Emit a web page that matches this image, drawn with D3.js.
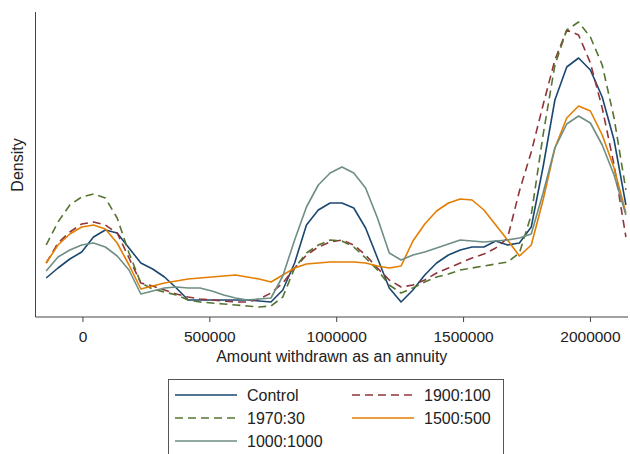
<!DOCTYPE html>
<html>
<head>
<meta charset="utf-8">
<script src="https://cdn.jsdelivr.net/npm/d3@7"></script>
<style>
  html, body { margin: 0; padding: 0; background: #fff; }
  svg { display: block; font-family: "Liberation Sans", Arial, sans-serif; }
</style>
</head>
<body>
<div id="chart"></div>
<script>
// Evaluation points (amount withdrawn) shared by all kernel density curves
const xGrid = [-142900, -96300, -49700, -3000, 43600, 90200, 136800, 183500, 230100, 276700,
  323300, 370000, 416600, 463200, 509800, 556500, 603100, 649700, 696300, 743000,
  789600, 836200, 882800, 929500, 976100, 1022700, 1069300, 1115900, 1162600, 1209200,
  1255800, 1302400, 1349100, 1395700, 1442300, 1488900, 1535600, 1582200, 1628800, 1675400,
  1722100, 1768700, 1815300, 1861900, 1908600, 1955200, 2001800, 2048400, 2095100, 2141700];

// Density values (x 1e-7)
const control = [3.9, 4.9, 5.8, 6.5, 8.0, 8.7, 8.4, 6.9, 5.4, 4.8,
  4.0, 2.9, 1.7, 1.7, 1.7, 1.7, 1.7, 1.7, 1.6, 1.5,
  2.7, 5.4, 9.2, 10.7, 11.4, 11.4, 10.9, 8.9, 5.9, 2.9,
  1.5, 2.7, 4.2, 5.4, 6.2, 6.7, 7.0, 7.0, 7.6, 7.2,
  7.4, 9.0, 15.0, 21.7, 25.0, 25.9, 24.7, 22.0, 17.7, 11.2];

const t1900 = [5.4, 7.4, 8.5, 9.3, 9.5, 9.2, 8.4, 5.9, 3.4, 3.1,
  2.7, 2.3, 2.0, 1.8, 1.7, 1.6, 1.5, 1.5, 1.8, 2.4,
  3.4, 4.9, 6.2, 7.0, 7.5, 7.7, 7.2, 6.2, 4.9, 3.7,
  3.0, 3.2, 3.7, 4.4, 4.9, 5.4, 5.9, 6.3, 6.9, 7.9,
  12.6, 16.5, 21.2, 25.7, 28.7, 28.2, 25.4, 20.9, 15.2, 8.0];

const t1970 = [7.2, 9.5, 11.2, 12.0, 12.3, 11.9, 9.9, 6.4, 3.4, 2.8,
  2.5, 2.2, 1.7, 1.5, 1.4, 1.3, 1.2, 1.1, 1.0, 1.1,
  2.0, 4.9, 6.4, 7.2, 7.7, 7.6, 7.0, 5.9, 4.7, 3.2,
  2.4, 2.9, 3.5, 4.0, 4.3, 4.7, 4.9, 5.1, 5.3, 5.5,
  6.4, 10.2, 18.2, 25.2, 28.7, 29.5, 28.0, 25.2, 19.9, 12.7];

const t1500 = [5.4, 7.2, 8.3, 9.0, 9.2, 8.8, 7.4, 5.2, 2.8, 3.1,
  3.4, 3.6, 3.8, 3.9, 4.0, 4.1, 4.2, 4.0, 3.8, 3.5,
  4.2, 4.9, 5.3, 5.4, 5.5, 5.5, 5.5, 5.4, 5.1, 4.9,
  5.1, 7.6, 9.3, 10.6, 11.4, 11.8, 11.7, 10.7, 9.2, 7.7,
  6.1, 7.2, 11.7, 16.9, 19.9, 21.1, 20.6, 18.2, 14.9, 10.4];

const t1000 = [4.6, 6.0, 6.7, 7.2, 7.4, 7.0, 6.1, 4.7, 2.3, 2.6,
  2.9, 3.0, 2.9, 2.9, 2.6, 2.2, 1.9, 1.7, 1.8, 1.9,
  4.1, 7.7, 11.0, 13.2, 14.4, 15.0, 14.4, 12.9, 9.9, 6.4,
  5.7, 6.2, 6.5, 6.9, 7.3, 7.7, 7.6, 7.5, 7.6, 7.7,
  7.9, 8.3, 12.4, 16.9, 19.3, 20.1, 19.4, 17.2, 14.2, 10.2];

const seriesNames = ['Control', '1900:100', '1970:30', '1500:500', '1000:1000'];
const seriesValues = [control, t1900, t1970, t1500, t1000];
const xTicks = [0, 500000, 1000000, 1500000, 2000000];

const COLORS = ['#1a476f', '#90353b', '#55752f', '#e37e00', '#6e8e84'];
const DASHES = [null, '8,5', '8,5', null, null];

(function () {
  'use strict';

  const W = 630, H = 454;
  const plot = { left: 35.5, right: 628, top: 12, bottom: 317 };

  const svg = d3.select('#chart').append('svg')
    .attr('width', W)
    .attr('height', H);

  const x = d3.scaleLinear()
    .domain([-185000, 2150000])
    .range([plot.left, plot.right]);

  const y = d3.scaleLinear()
    .domain([0, 30.5])
    .range([plot.bottom, plot.top]);

  // Axes
  const xAxis = svg.append('g')
    .attr('transform', 'translate(0,' + plot.bottom + ')')
    .call(d3.axisBottom(x).tickValues(xTicks).tickFormat(d3.format('d')).tickSize(5).tickPadding(9));
  xAxis.select('.domain').attr('stroke', '#444').attr('d', 'M' + plot.left + ',0H' + plot.right);
  xAxis.selectAll('.tick line').attr('stroke', '#444');
  xAxis.selectAll('.tick text')
    .attr('fill', '#222')
    .attr('font-size', '15.5px')
    .attr('font-family', '"Liberation Sans", Arial, sans-serif');

  svg.append('line')
    .attr('x1', plot.left).attr('x2', plot.left)
    .attr('y1', plot.top).attr('y2', plot.bottom)
    .attr('stroke', '#444');

  svg.append('text')
    .attr('x', (plot.left + plot.right) / 2)
    .attr('y', 362)
    .attr('text-anchor', 'middle')
    .attr('fill', '#222')
    .attr('font-size', '16px')
    .text('Amount withdrawn as an annuity');

  svg.append('text')
    .attr('transform', 'translate(23,' + 165 + ') rotate(-90)')
    .attr('text-anchor', 'middle')
    .attr('fill', '#222')
    .attr('font-size', '16px')
    .text('Density');

  // Density curves
  const line = d3.line()
    .x(function (d, i) { return x(xGrid[i]); })
    .y(function (d) { return y(d); });

  seriesValues.forEach(function (vals, k) {
    svg.append('path')
      .datum(vals)
      .attr('fill', 'none')
      .attr('stroke', COLORS[k])
      .attr('stroke-width', 1.6)
      .attr('stroke-dasharray', DASHES[k])
      .attr('stroke-linejoin', 'round')
      .attr('d', line);
  });

  // Legend (two columns, row-wise)
  const lg = svg.append('g');
  lg.append('rect')
    .attr('x', 168.5).attr('y', 379.5)
    .attr('width', 335).attr('height', 90)
    .attr('fill', '#fff')
    .attr('stroke', '#555');

  const rowY = [395, 418, 441];
  const colX = [175, 352];
  seriesNames.forEach(function (name, k) {
    const cx = colX[k % 2];
    const cy = rowY[Math.floor(k / 2)];
    lg.append('line')
      .attr('x1', cx).attr('x2', cx + 62)
      .attr('y1', cy).attr('y2', cy)
      .attr('stroke', COLORS[k])
      .attr('stroke-width', 1.6)
      .attr('stroke-dasharray', DASHES[k]);
    lg.append('text')
      .attr('x', cx + 72)
      .attr('y', cy)
      .attr('dy', '0.35em')
      .attr('fill', '#222')
      .attr('font-size', '16px')
      .text(name);
  });
})();
</script>
</body>
</html>
